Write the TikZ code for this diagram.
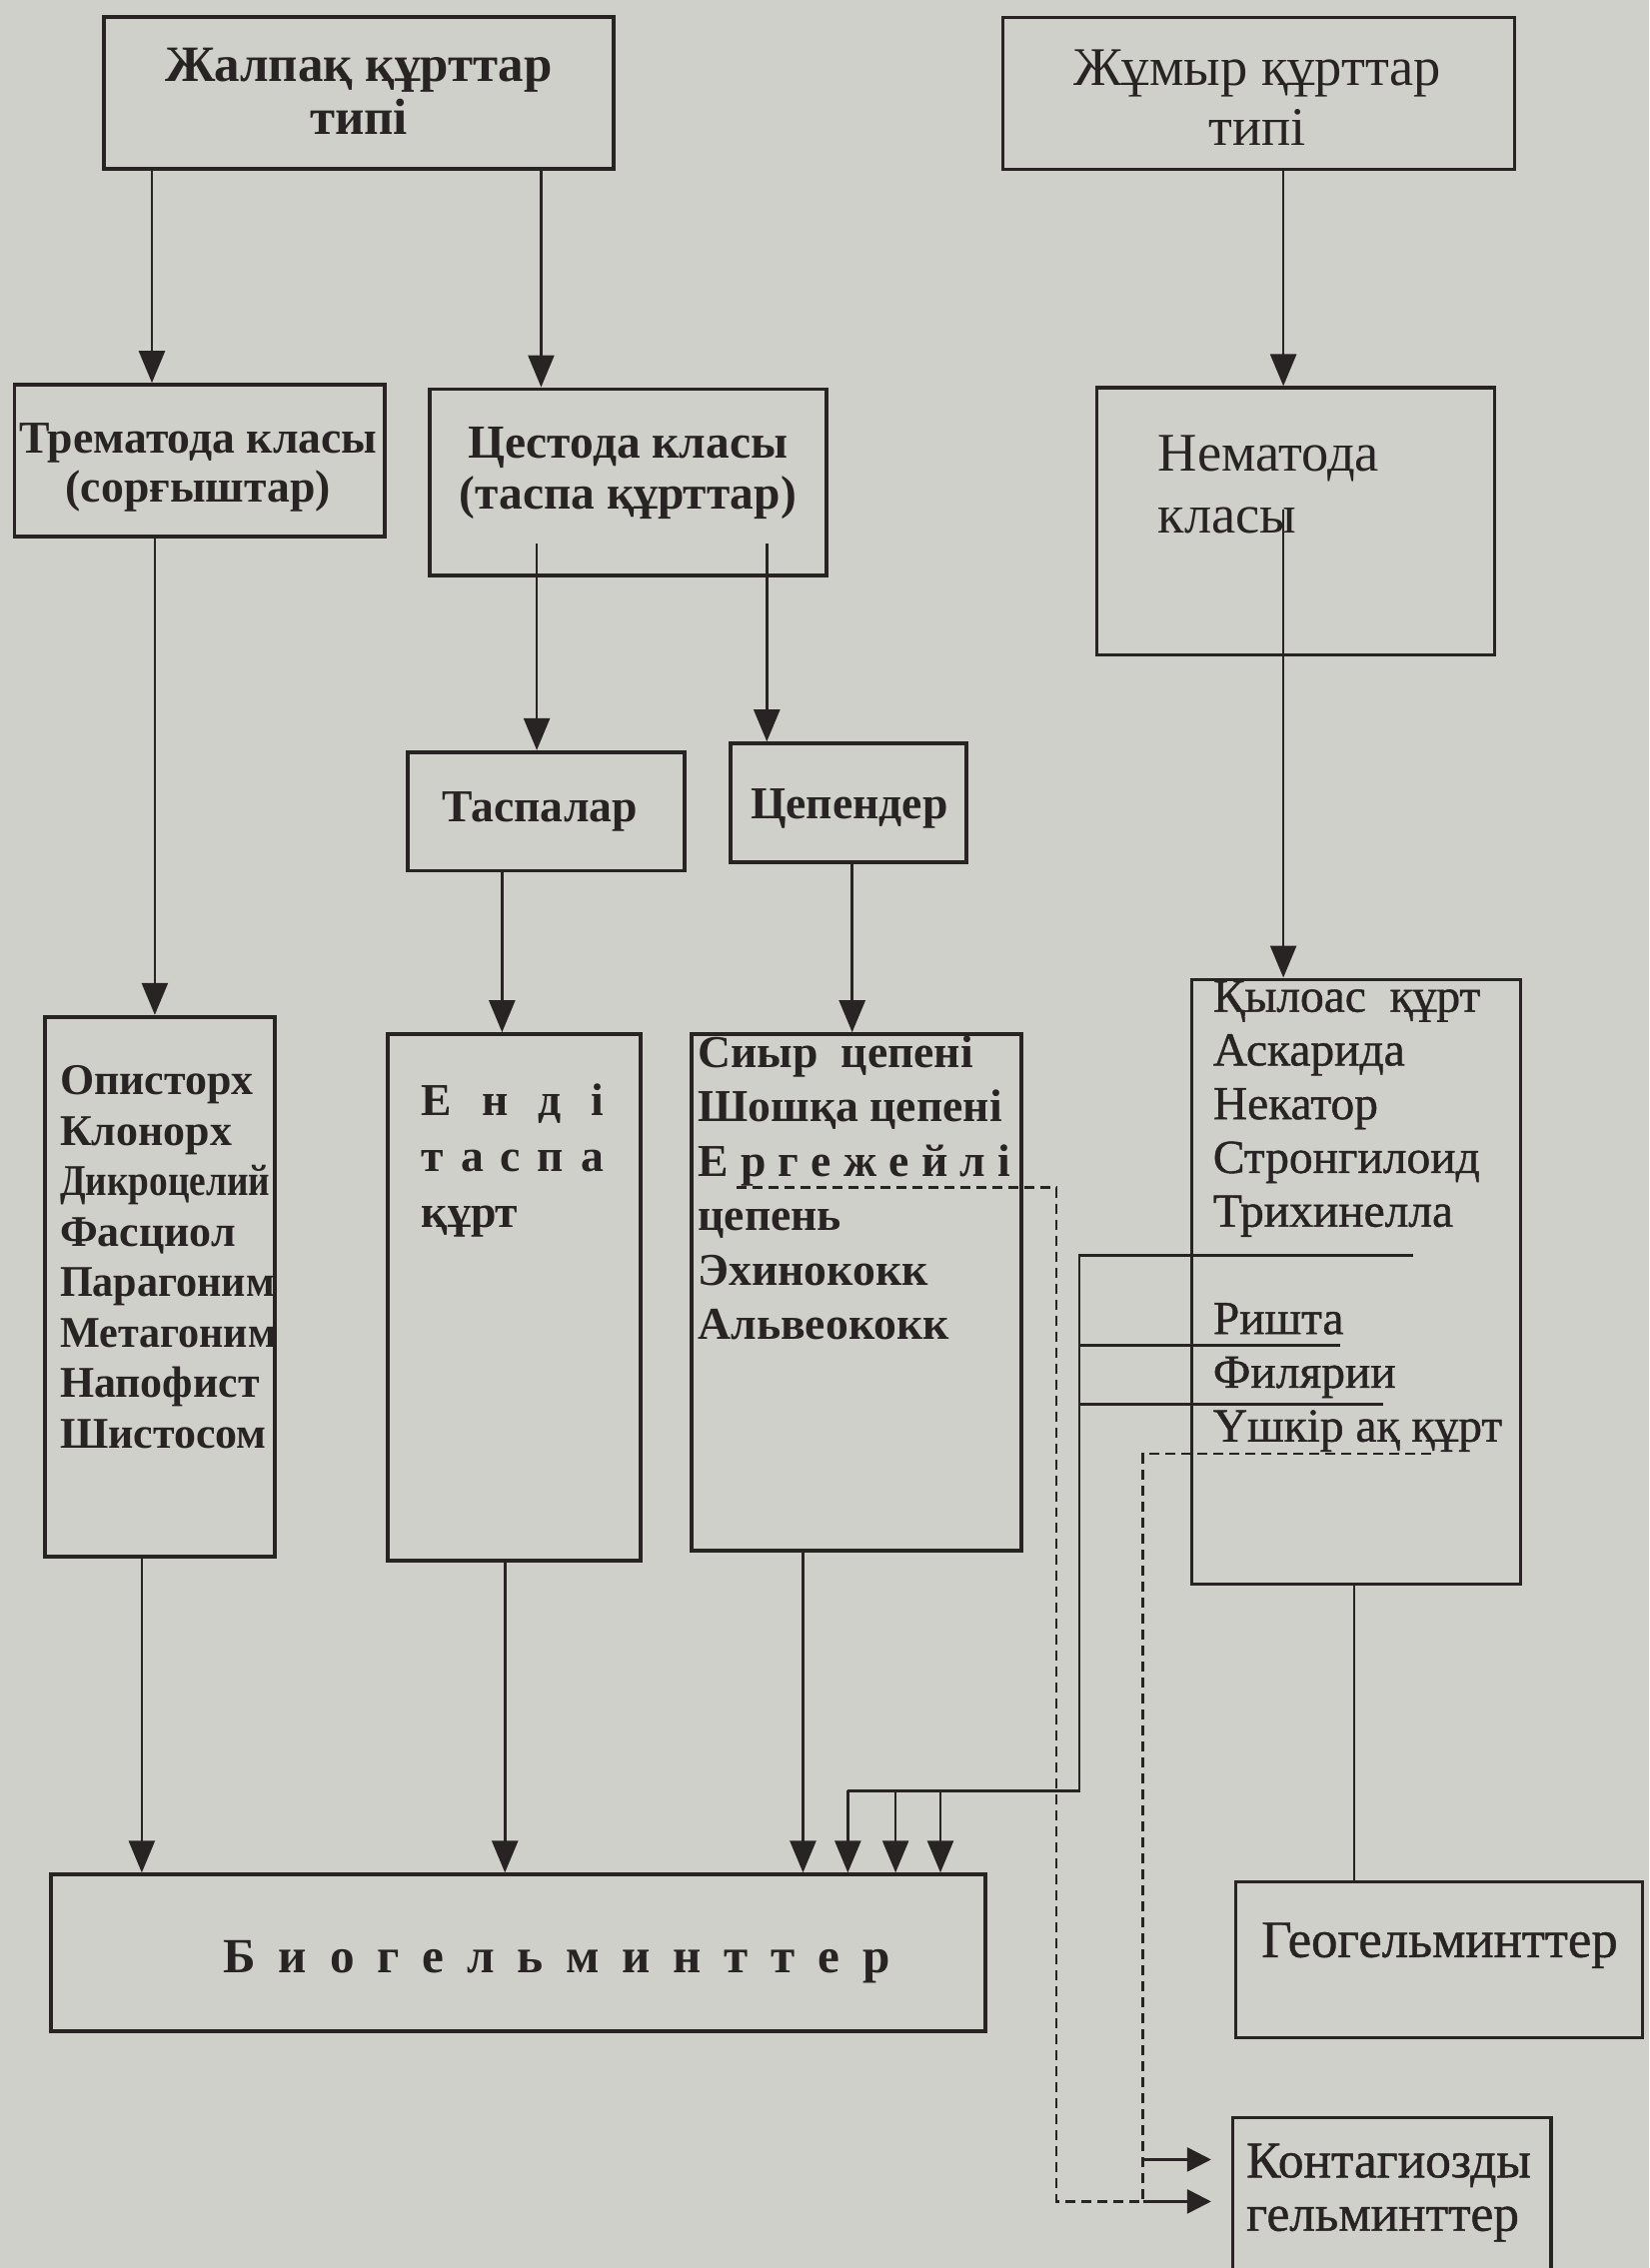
\documentclass[tikz,border=0pt]{standalone}
\usepackage{fontspec}
\setmainfont{Liberation Serif}
\newfontfamily\semibold[FakeBold=0.9]{Liberation Serif}
\usetikzlibrary{arrows.meta,fit}
\definecolor{paper}{RGB}{208,208,202}
\definecolor{ink}{RGB}{40,36,36}

\begin{document}
\begin{tikzpicture}[x=0.014474cm, y=-0.014474cm,
  box/.style={draw=ink, line width=1.1pt, inner sep=0pt},
  thinbox/.style={box, line width=0.9pt},
  txt/.style={inner sep=0pt, text=ink, align=left, anchor=north west},
  ctxt/.style={inner sep=0pt, text=ink, align=center, anchor=north},
  word/.style={inner sep=0pt, text=ink, anchor=base},
  link/.style={draw=ink, line width=0.75pt},
  arr/.style={link, -{Triangle[length=3.2mm,width=2.6mm]}},
  sidearr/.style={link, -{Triangle[length=2.4mm,width=2.4mm]}, shorten >=2mm},
  dashline/.style={draw=ink, line width=0.7pt, dash pattern=on 1mm off 0.6mm}]
 \useasboundingbox (0,0) rectangle (1140,1568);
 \clip (0,0) rectangle (1140,1568);
 \fill[paper] (0,0) rectangle (1140,1568);

 % types
 \node[box, fit={(72,12) (424,117)}] (jalpak) {};
 \node[ctxt, font=\fontsize{14.5}{15.2}\selectfont\bfseries] (jalpakTxt) at (248,30) {\strut Жалпақ құрттар\\типі};
 \node[thinbox, fit={(693,12) (1047,117)}] (jumyr) {};
 \node[ctxt, font=\fontsize{15.5}{16.9}\selectfont] (jumyrTxt) at (869,30) {\strut Жұмыр құрттар\\типі};

 % classes
 \node[box, fit={(10,266) (266,371)}] (trema) {};
 \node[ctxt, font=\fontsize{13}{14}\selectfont\bfseries] (tremaTxt) at (137,289) {\strut Трематода класы\\(сорғыштар)};
 \node[box, fit={(297,269) (571,398)}] (cesto) {};
 \node[ctxt, font=\fontsize{13.5}{14.4}\selectfont\bfseries] (cestoTxt) at (434,292) {\strut Цестода класы\\(таспа құрттар)};
 \node[thinbox, fit={(758,268) (1033,453)}] (nema) {};
 \node[txt, font=\fontsize{15.5}{17.7}\selectfont] (nemaTxt) at (800,295) {\strut Нематода\\класы};

 \node[box, fit={(282,520) (473,602)}] (taspa) {};
 \node[word, font=\fontsize{13}{15}\selectfont\bfseries] (taspaTxt) at (373,568) {Таспалар};
 \node[box, fit={(505,514) (668,596)}] (tsepen) {};
 \node[word, font=\fontsize{13}{15}\selectfont\bfseries] (tsepenTxt) at (587,566) {Цепендер};

 % species
 \node[box, fit={(31,703) (190,1076)}] (tremaList) {};
 \node[txt, font=\fontsize{12.5}{14.37}\selectfont\bfseries] (tremaListTxt) at (41,732) {\strut Описторх\\Клонорх\\\scalebox{0.85}[1]{Дикроцелий}\\Фасциол\\\scalebox{0.96}[1]{Парагоним}\\\scalebox{0.96}[1]{Метагоним}\\Напофист\\Шистосом};
 \node[box, fit={(268,715) (443,1079)}] (endi) {};
 \node[txt, font=\fontsize{13}{15.85}\selectfont\bfseries] (endiTxt) at (291,744) {\strut\makebox[1.82cm][s]{Е\hfil н\hfil д\hfil і}\\\makebox[1.82cm][s]{т\hfil а\hfil с\hfil п\hfil а}\\құрт};
 \node[box, fit={(478,715) (706,1072)}] (tsepList) {};
 \node[txt, font=\fontsize{13}{15.5}\selectfont\bfseries] (tsepListTxt) at (482,711) {\strut Сиыр\ \ цепені\\Шошқа цепені\\\makebox[3.13cm][s]{Е\hfil р\hfil г\hfil е\hfil ж\hfil е\hfil й\hfil л\hfil і}\\цепень\\Эхинококк\\Альвеококк};
 \node[thinbox, fit={(824,677) (1051,1095)}] (nemaList) {};
 \node[txt, font=\fontsize{13.5}{15.3}\selectfont\semibold] (nemaListTxt) at (838,673) {\strut Қылоас\ \ құрт\\Аскарида\\Некатор\\Стронгилоид\\Трихинелла\\[15.3pt]Ришта\\Филярии\\Үшкір ақ құрт};

 % groups
 \node[box, fit={(35,1296) (681,1404)}] (bio) {};
 \node[word, anchor=base west, font=\fontsize{14}{16}\selectfont\bfseries] (bioTxt) at (154,1364) {\makebox[6.67cm][s]{Б\hfil и\hfil о\hfil г\hfil е\hfil л\hfil ь\hfil м\hfil и\hfil н\hfil т\hfil т\hfil е\hfil р}};
 \node[thinbox, fit={(854,1301) (1135,1409)}] (geo) {};
 \node[word, font=\fontsize{15}{17}\selectfont\semibold] (geoTxt) at (995,1353) {Геогельминттер};
 \node[thinbox, fit={(852,1464) (1072,1600)}] (kontag) {};
 \node[txt, font=\fontsize{14.6}{15.2}\selectfont\semibold] (kontagTxt) at (861,1479) {\strut Контагиозды\\гельминттер};

 % arrows down the tree
 \coordinate (cestoOut) at (0,376);
 \coordinate (nemaOut) at (0,352);
 \draw[arr] (105,0 |- jalpak.south) -- (105,0 |- trema.north);
 \draw[arr] (374,0 |- jalpak.south) -- (374,0 |- cesto.north);
 \draw[arr] (887,0 |- jumyr.south) -- (887,0 |- nema.north);
 \draw[arr] (107,0 |- trema.south) -- (107,0 |- tremaList.north);
 \draw[arr] (371,0 |- cestoOut) -- (371,0 |- taspa.north);
 \draw[arr] (530,0 |- cestoOut) -- (530,0 |- tsepen.north);
 \draw[arr] (887,0 |- nemaOut) -- (887,0 |- nemaList.north);
 \draw[arr] (347,0 |- taspa.south) -- (347,0 |- endi.north);
 \draw[arr] (589,0 |- tsepen.south) -- (589,0 |- tsepList.north);
 \draw[arr] (98,0 |- tremaList.south) -- (98,0 |- bio.north);
 \draw[arr] (349,0 |- endi.south) -- (349,0 |- bio.north);
 \draw[arr] (555,0 |- tsepList.south) -- (555,0 |- bio.north);
 \draw[link] (936,0 |- nemaList.south) -- (936,0 |- geo.north);

 % trichinella, rishta, filaria
 \coordinate (trihEnd) at (977,868);
 \coordinate (rishEnd) at (926,930);
 \coordinate (filEnd) at (956,971);
 \coordinate (brTop) at (746,868);
 \coordinate (brBot) at (746,1238);
 \coordinate (brLeft) at (586,1238);
 \draw[link] (trihEnd) -- (brTop) -- (brBot) -- (brLeft);
 \draw[link] (rishEnd) -- (brTop |- rishEnd);
 \draw[link] (filEnd) -- (brTop |- filEnd);
 \draw[arr] (brLeft) -- (brLeft |- bio.north);
 \draw[arr] (619,0 |- brBot) -- (619,0 |- bio.north);
 \draw[arr] (650,0 |- brBot) -- (650,0 |- bio.north);

 % contagious
 \coordinate (ergUnder) at (509,821);
 \coordinate (enteroUnder) at (989,1005);
 \coordinate (kontagIn1) at (790,1493);
 \coordinate (kontagIn2) at (790,1522);
 \draw[dashline] (ergUnder) -- (730,0 |- ergUnder) -- (730,0 |- kontagIn2) -- (kontagIn2);
 \draw[dashline] (enteroUnder) -- (kontagIn1 |- enteroUnder) -- (kontagIn2);
 \draw[sidearr] (kontagIn1) -- (kontagIn1 -| kontag.west);
 \draw[sidearr] (kontagIn2) -- (kontagIn2 -| kontag.west);
\end{tikzpicture}
\end{document}
